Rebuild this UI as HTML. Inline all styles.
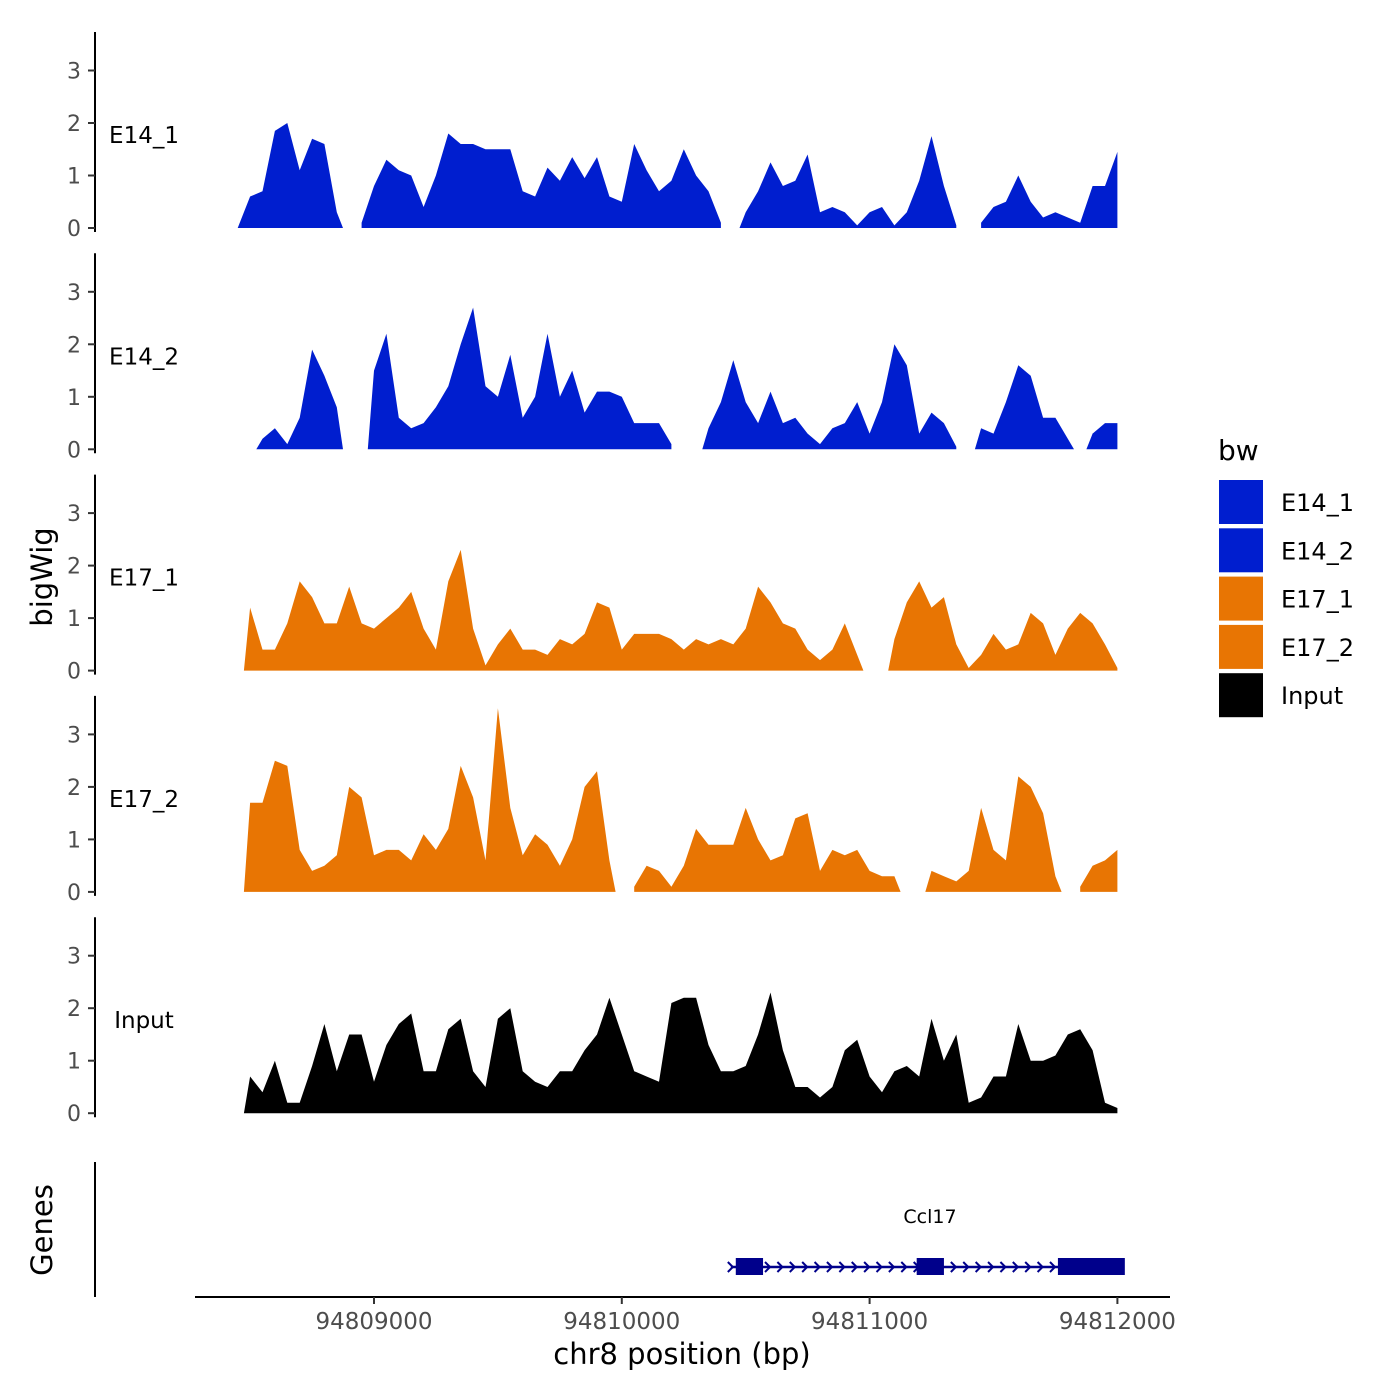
<!DOCTYPE html>
<html><head><meta charset="utf-8"><style>
body{margin:0;background:#fff}
svg{display:block;font-family:"DejaVu Sans","Liberation Sans",sans-serif}
</style></head><body>
<svg id="c" width="1400" height="1400" viewBox="0 0 1400 1400">
<g id="panels"></g>
<text x="52" y="577" font-size="29" text-anchor="middle" transform="rotate(-90 52 577)">bigWig</text>
<text x="52" y="1230" font-size="29" text-anchor="middle" transform="rotate(-90 52 1230)">Genes</text>
<line x1="95" y1="1162" x2="95" y2="1297" stroke="#000" stroke-width="2"/>
<line x1="195" y1="1297" x2="1170" y2="1297" stroke="#000" stroke-width="2"/>
<g id="xaxis"></g>
<text x="682" y="1364" font-size="29" text-anchor="middle">chr8 position (bp)</text>
<g id="gene"></g>
<g id="legend">
<text x="1218" y="460" font-size="28">bw</text>
</g>
</svg>
<script>
const startBp = 94808450, stepBp = 50;
const seriesNames = ["E14_1","E14_2","E17_1","E17_2","Input"];
const seriesColors = ["#001ECF","#001ECF","#E87503","#E87503","#000000"];
const xTicks = [94809000,94810000,94811000,94812000];
const yTicks = [0,1,2,3];
const N = null;
const e14_1 = [0,0.6,0.7,1.85,2.0,1.1,1.7,1.6,0.3,N,0.1,0.8,1.3,1.1,1.0,0.4,1.0,1.8,1.6,1.6,1.5,1.5,1.5,0.7,0.6,1.15,0.9,1.35,0.95,1.35,0.6,0.5,1.6,1.1,0.7,0.9,1.5,1.0,0.7,0.1,N,0.3,0.7,1.25,0.8,0.9,1.4,0.3,0.4,0.3,0.05,0.3,0.4,0.05,0.3,0.9,1.75,0.8,0.05,N,0.1,0.4,0.5,1.0,0.5,0.2,0.3,0.2,0.1,0.8,0.8,1.45];
const e14_2 = [N,N,0.2,0.4,0.1,0.6,1.9,1.4,0.8,N,N,1.5,2.2,0.6,0.4,0.5,0.8,1.2,2.0,2.7,1.2,1.0,1.8,0.6,1.0,2.2,1.0,1.5,0.7,1.1,1.1,1.0,0.5,0.5,0.5,0.1,N,N,0.4,0.9,1.7,0.9,0.5,1.1,0.5,0.6,0.3,0.1,0.4,0.5,0.9,0.3,0.9,2.0,1.6,0.3,0.7,0.5,0.05,N,0.4,0.3,0.9,1.6,1.4,0.6,0.6,0.2,N,0.3,0.5,0.5];
const e17_1 = [N,1.2,0.4,0.4,0.9,1.7,1.4,0.9,0.9,1.6,0.9,0.8,1.0,1.2,1.5,0.8,0.4,1.7,2.3,0.8,0.1,0.5,0.8,0.4,0.4,0.3,0.6,0.5,0.7,1.3,1.2,0.4,0.7,0.7,0.7,0.6,0.4,0.6,0.5,0.6,0.5,0.8,1.6,1.3,0.9,0.8,0.4,0.2,0.4,0.9,0.3,N,N,0.6,1.3,1.7,1.2,1.4,0.5,0.05,0.3,0.7,0.4,0.5,1.1,0.9,0.3,0.8,1.1,0.9,0.5,0.05];
const e17_2 = [N,1.7,1.7,2.5,2.4,0.8,0.4,0.5,0.7,2.0,1.8,0.7,0.8,0.8,0.6,1.1,0.8,1.2,2.4,1.8,0.6,3.5,1.6,0.7,1.1,0.9,0.5,1.0,2.0,2.3,0.6,N,0.1,0.5,0.4,0.1,0.5,1.2,0.9,0.9,0.9,1.6,1.0,0.6,0.7,1.4,1.5,0.4,0.8,0.7,0.8,0.4,0.3,0.3,N,N,0.4,0.3,0.2,0.4,1.6,0.8,0.6,2.2,2.0,1.5,0.3,N,0.1,0.5,0.6,0.8];
const input = [N,0.7,0.4,1.0,0.2,0.2,0.9,1.7,0.8,1.5,1.5,0.6,1.3,1.7,1.9,0.8,0.8,1.6,1.8,0.8,0.5,1.8,2.0,0.8,0.6,0.5,0.8,0.8,1.2,1.5,2.2,1.5,0.8,0.7,0.6,2.1,2.2,2.2,1.3,0.8,0.8,0.9,1.5,2.3,1.2,0.5,0.5,0.3,0.5,1.2,1.4,0.7,0.4,0.8,0.9,0.7,1.8,1.0,1.5,0.2,0.3,0.7,0.7,1.7,1.0,1.0,1.1,1.5,1.6,1.2,0.2,0.1];
const seriesData = [e14_1,e14_2,e17_1,e17_2,input];
const geneName = "Ccl17";
const geneStart = 94810440, geneEnd = 94812020;
const exonStarts = [94810460,94811190,94811760];
const exonEnds = [94810570,94811300,94812030];

const NS="http://www.w3.org/2000/svg";
const xs = bp => 374 + (bp - 94809000) * 0.2478;
const pxPerUnit = 52.5, panelGap = 221.3, zero0 = 228;
const halfStep = stepBp*0.2478*0.5;
function mk(tag, attrs, parent){const e=document.createElementNS(NS,tag);for(const k in attrs)e.setAttribute(k,attrs[k]);parent.appendChild(e);return e;}
const panels=document.getElementById('panels');
seriesNames.forEach((name,p)=>{
  const z = zero0 + p*panelGap;
  const ys = v => z - v*pxPerUnit;
  const g = mk('g',{},panels);
  
  
  const ax = mk('line',{x1:95,x2:95,y1:z-196,y2:z+4,stroke:'#000','stroke-width':2},g);
  
  
  yTicks.forEach(t=>{
    const tk = mk('line',{x1:88,x2:95,y1:ys(t),y2:ys(t),stroke:'#333','stroke-width':2},g);
    
    
    const tl = mk('text',{x:81,y:ys(t)+8,'font-size':22,'text-anchor':'end',fill:'#4d4d4d'},g);
    tl.textContent=t;
    
    
  });
  const lab = mk('text',{x:144,y:z-85,'font-size':23,'text-anchor':'middle'},g);
  lab.textContent=name;
  
  
  const d = seriesData[p];
  let seg=[];
  const flush=(atEnd)=>{
    if(seg.length){
      const x0=+seg[0][0], x1=+seg[seg.length-1][0];
      const first = seg[0][2]>0.15 && seg[0][3]>0 ? x0-halfStep : x0;
      const last = seg[seg.length-1][2]>0.15 && !atEnd ? x1+halfStep : x1;
      let s='M'+first.toFixed(1)+','+z;
      seg.forEach(q=>s+=' L'+q[0]+','+q[1]);
      s+=' L'+last.toFixed(1)+','+z+' Z';
      const a = mk('path',{d:s,fill:seriesColors[p]},g);
      
      
    }
    seg=[];
  };
  d.forEach((v,i)=>{
    if(v===null){flush(false);return;}
    seg.push([xs(startBp+i*stepBp).toFixed(1), ys(v).toFixed(1), v, i]);
  });
  flush(true);
});
const xa=document.getElementById('xaxis');
xTicks.forEach(t=>{
  const tk=mk('line',{x1:xs(t),x2:xs(t),y1:1297,y2:1304,stroke:'#333','stroke-width':2},xa);
  
  
  const tl=mk('text',{x:xs(t),y:1329,'font-size':23,'text-anchor':'middle',fill:'#4d4d4d'},xa);
  tl.textContent=t;
  
  
});
const gg=document.getElementById('gene');
const gl=mk('line',{x1:xs(geneStart),x2:xs(geneEnd),y1:1267,y2:1267,stroke:'#00008B','stroke-width':2.5},gg);


for(let bp=geneStart; bp<geneEnd; bp+=50){
  const x=xs(bp);
  const ar=mk('path',{d:`M${x-3},${1262} L${x+2},${1267} L${x-3},${1272}`,fill:'none',stroke:'#00008B','stroke-width':2},gg);
  
  
}
exonStarts.forEach((s,i)=>{
  const r=mk('rect',{x:xs(s),y:1258,width:xs(exonEnds[i])-xs(s),height:17,fill:'#00008B'},gg);
  
  
});
const gt=mk('text',{x:930,y:1223,'font-size':19,'text-anchor':'middle'},gg);
gt.textContent=geneName;


const lg=document.getElementById('legend');
seriesNames.forEach((n,i)=>{
  const y=480+i*48.3;
  const r=mk('rect',{x:1219,y:y,width:44,height:44,fill:seriesColors[i]},lg);
  
  
  const t=mk('text',{x:1281,y:y+31,'font-size':24},lg);
  t.textContent=n;
  
  
});
</script>
</body></html>
